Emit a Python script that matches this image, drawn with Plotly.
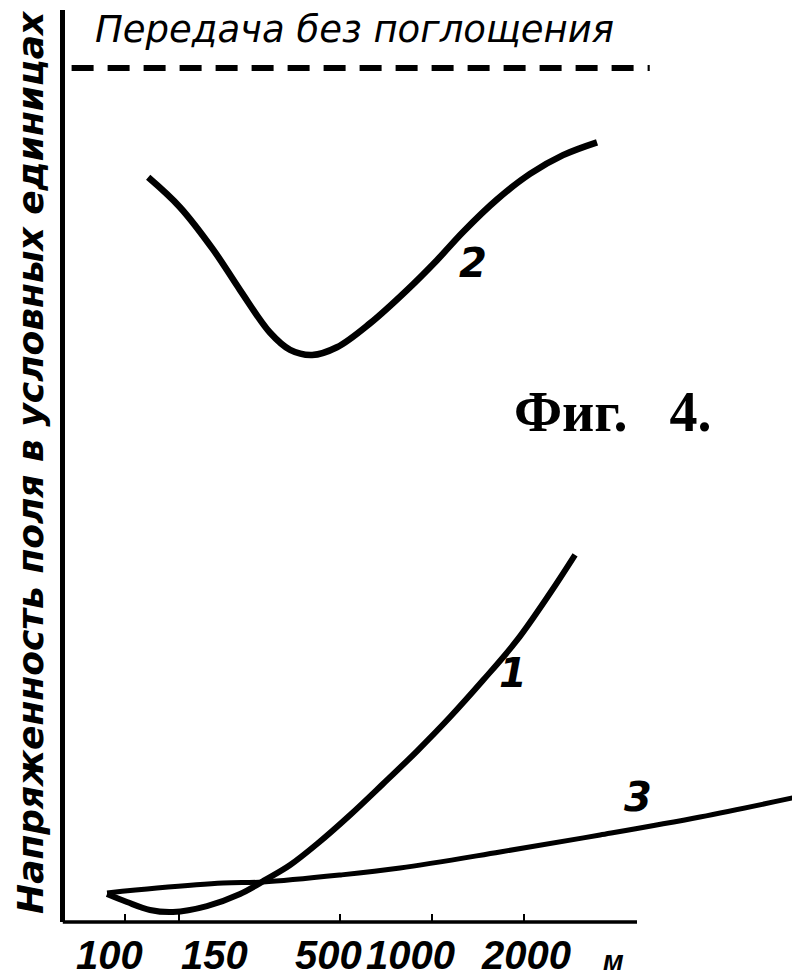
import numpy as np
import plotly.graph_objects as go

# ---- data ----
# wavelength, m (log axis); field strength in arbitrary units (no-absorption level = 100)
curve1_x = [87.4, 101.5, 120.6, 143.3, 184.9, 237, 290, 345, 422, 541, 692, 894, 1145, 1466, 1892, 2423, 2924]
curve1_y = [3.28, 2.34, 1.41, 1.17, 1.87, 3.28, 5.04, 6.67, 9.13, 12.53, 16.16, 20.02, 24.0, 28.3, 33.0, 38.5, 43.0]

curve2_x = [119, 151, 194, 237, 297, 345, 407, 490, 628, 829, 1038, 1262, 1628, 2085, 2671, 3448]
curve2_y = [87.2, 83.7, 78.7, 74.0, 69.0, 67.0, 66.4, 67.3, 70.1, 74.0, 77.5, 80.8, 84.6, 87.6, 89.8, 91.3]

curve3_x = [87.4, 127.1, 208.5, 281.6, 501.5, 786.7, 1665, 3526, 7465, 15450]
curve3_y = [3.40, 3.98, 4.57, 4.68, 5.50, 6.32, 8.20, 10.19, 12.30, 14.64]

no_absorption_x = [67, 5120]
no_absorption_y = [100, 100]

curve_names = ["1", "2", "3"]
curve_label_x = [1836, 1360, 4688]
curve_label_y = [29.2, 77.2, 14.6]

tick_values = [100, 150, 500, 1000, 2000]
tick_labels = ["100", "150", "500", "1000", "2000"]
x_unit = "м"

y_title = "Напряженность поля в условных единицах"
top_text = "Передача без поглощения"
fig_caption = "Фиг.\u00a0\u00a0\u00a04."

# ---- figure ----
INK = "black"
fig = go.Figure()

fig.add_trace(go.Scatter(x=no_absorption_x, y=no_absorption_y, mode="lines",
                         line=dict(color=INK, width=6, dash="22px,14px"), hoverinfo="skip"))
fig.add_trace(go.Scatter(x=curve2_x, y=curve2_y, mode="lines",
                         line=dict(color=INK, width=6.5, shape="spline", smoothing=1.0)))
fig.add_trace(go.Scatter(x=curve1_x, y=curve1_y, mode="lines",
                         line=dict(color=INK, width=6, shape="spline", smoothing=1.0)))
fig.add_trace(go.Scatter(x=curve3_x, y=curve3_y, mode="lines",
                         line=dict(color=INK, width=5, shape="spline", smoothing=1.0)))

hand = "DejaVu Sans"
digits = "Liberation Sans, Arial, sans-serif"

annotations = []
for name, lx, ly in zip(curve_names, curve_label_x, curve_label_y):
    annotations.append(dict(x=np.log10(lx), y=ly, xref="x", yref="y", text=name, showarrow=False,
                            font=dict(family=hand, size=40, color=INK, style="italic", weight="bold")))

label_shift = [-16, 35, -11, -22, 2]
for v, t, dx in zip(tick_values, tick_labels, label_shift):
    annotations.append(dict(x=np.log10(v), y=0, xref="x", yref="paper", text=t, showarrow=False,
                            xanchor="center", yanchor="middle", yshift=-33, xshift=dx,
                            font=dict(family=digits, size=40, color=INK, style="italic", weight="bold")))
annotations.append(dict(x=(613 - 65) / 735, y=0, xref="paper", yref="paper", text=x_unit, showarrow=False,
                        xanchor="center", yanchor="middle", yshift=-38,
                        font=dict(family=digits, size=28, color=INK, style="italic", weight="bold")))

annotations.append(dict(x=0, y=(922 - 462) / 912, xref="paper", yref="paper", text=y_title,
                        showarrow=False, textangle=-90, xanchor="center", yanchor="middle", xshift=-35,
                        font=dict(family=hand, size=36, color=INK, style="italic", weight="bold")))
annotations.append(dict(x=(354 - 65) / 735, y=(922 - 30) / 912, xref="paper", yref="paper", text=top_text,
                        showarrow=False, xanchor="center", yanchor="middle",
                        font=dict(family=hand, size=37, color=INK, style="italic")))
annotations.append(dict(x=(612 - 65) / 735, y=(922 - 412) / 912, xref="paper", yref="paper", text=fig_caption,
                        showarrow=False, xanchor="center", yanchor="middle",
                        font=dict(family="Liberation Serif, DejaVu Serif", size=56, color=INK, weight="bold")))

# the page body adds an 8px margin, so the figure is 8px smaller and its margins compensate
fig.update_layout(
    width=792, height=970,
    margin=dict(l=57, r=0, t=2, b=56),
    paper_bgcolor="white", plot_bgcolor="white",
    showlegend=False,
    annotations=annotations,
    shapes=[dict(type="line", xref="paper", yref="paper", x0=-0.003, x1=(637 - 65) / 735, y0=0, y1=0,
                 line=dict(color=INK, width=3.5))],
    xaxis=dict(type="log", range=[2 + (65 - 125) / 307, 2 + (800 - 125) / 307],
               tickvals=tick_values, showticklabels=False, ticks="inside", ticklen=8, tickwidth=2,
               tickcolor=INK, showgrid=False, zeroline=False, showline=False),
    yaxis=dict(range=[0, (922 - 10) / 8.54], showline=True, linecolor=INK, linewidth=4.5,
               showticklabels=False, ticks="", showgrid=False, zeroline=False),
)

fig.write_html("out.html")
